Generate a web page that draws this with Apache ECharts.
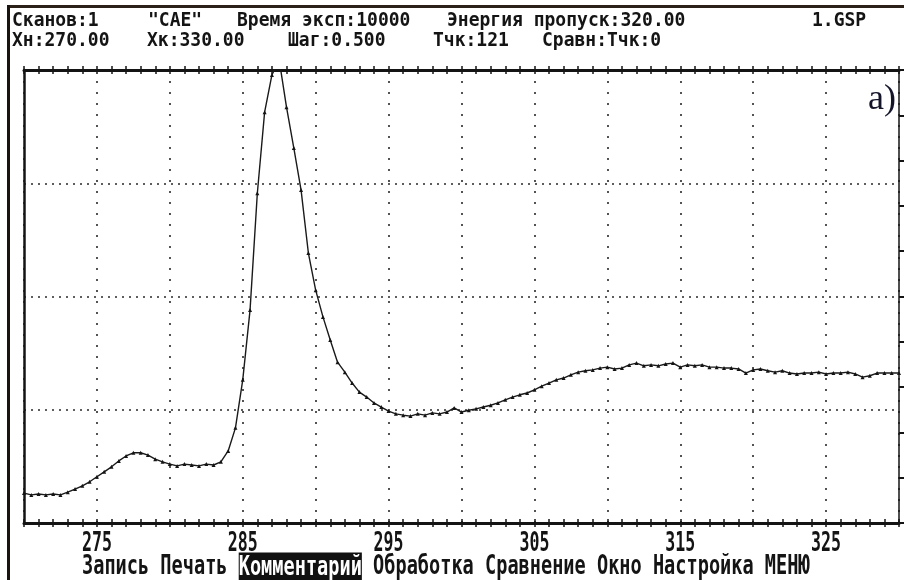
<!DOCTYPE html>
<html><head><meta charset="utf-8">
<script src="https://cdn.jsdelivr.net/npm/echarts@6/dist/echarts.min.js"></script>
<style>html,body{margin:0;padding:0;background:#fff}#c{width:904px;height:580px}</style>
</head><body><div id="c"></div>
<script>
// ---- data ----
const xStart = 270;
const xStep = 0.5;
const intensity = [
 6.6,6.2,6.4,6.2,6.4,6.2,6.8,7.5,8.2,9.1,
 10.2,11.3,12.4,13.7,14.8,15.5,15.5,15.0,14.1,13.5,
 13.0,12.6,13.0,12.8,12.6,13.0,12.8,13.5,15.9,21.0,
 31.6,47.0,72.8,90.7,98.9,102.2,91.8,82.8,73.5,59.6,
 51.4,45.5,40.4,35.5,33.3,30.9,28.9,27.8,26.5,25.6,
 24.7,24.1,23.8,23.6,24.1,23.8,24.3,24.1,24.5,25.4,
 24.5,24.9,25.2,25.6,26.0,26.5,27.2,27.8,28.3,28.7,
 29.4,30.2,30.9,31.6,32.0,32.7,33.3,33.6,33.8,34.2,
 34.4,34.0,34.2,34.9,35.3,34.7,34.9,34.7,35.1,35.3,
 34.4,34.9,34.7,34.9,34.4,34.4,34.2,34.2,34.0,33.1,
 33.8,34.0,33.6,33.3,33.6,33.1,32.9,33.1,33.1,33.3,
 32.9,33.1,33.1,33.3,32.9,32.2,32.5,33.1,33.1,33.1,
 33.1
];
const xTickLabels = [275, 285, 295, 305, 315, 325];
const headerLine1 = ['Сканов:1', '"CAE"', 'Время эксп:10000', 'Энергия пропуск:320.00', '1.GSP'];
const headerLine2 = ['Хн:270.00', 'Хк:330.00', 'Шаг:0.500', 'Тчк:121', 'Сравн:Тчк:0'];
const menuItems = ['Запись', 'Печать', 'Комментарий', 'Обработка', 'Сравнение', 'Окно', 'Настройка', 'МЕНЮ'];
const highlighted = 'Комментарий';
const panelLabel = 'a)';

// ---- layout / styles ----
const h1x = [12, 148, 237, 447, 812];
const h2x = [12, 147, 288, 433, 542];
const MONO = "'DejaVu Sans Mono', 'Liberation Mono', monospace";
const ink = '#141414';

const seriesData = intensity.map((v, i) => [xStart + i * xStep, v]);

function headerText(arr, xs, cy) {
  return arr.map((t, i) => ({
    type: 'text', x: xs[i], y: cy, scaleY: 1.12,
    style: { text: t, font: 'bold 18px ' + MONO, fill: ink, verticalAlign: 'middle', align: 'left' }
  }));
}
const menuStr = menuItems.map(m => m === highlighted ? '{hl|' + m + '}' : m).join(' ');

const chart = echarts.init(document.getElementById('c'), null, { renderer: 'canvas' });
const dotted = { color: '#2a2a2a', width: 1.6 };
const tickStyle = { color: ink, width: 1.5 };
chart.setOption({
  animation: false,
  backgroundColor: '#fff',
  grid: { left: 24, right: 5, top: 70, bottom: 57, containLabel: false },
  xAxis: [
    { type: 'value', position: 'bottom', min: 270, max: 330, interval: 5,
      axisLine: { show: true, lineStyle: { color: ink, width: 3 } },
      axisTick: { show: true, length: 4, lineStyle: tickStyle },
      minorTick: { show: true, splitNumber: 5, length: 4, lineStyle: tickStyle },
      axisLabel: { show: false },
      splitLine: { show: true, lineStyle: Object.assign({ type: [2, 9] }, dotted) },
      minorSplitLine: { show: false } },
    { type: 'value', position: 'bottom', min: 270, max: 330, interval: 5,
      axisLine: { show: false },
      axisTick: { show: true, inside: true, length: 4, lineStyle: tickStyle },
      minorTick: { show: true, splitNumber: 5, length: 4, lineStyle: tickStyle },
      axisLabel: { show: false }, splitLine: { show: false } },
    { type: 'value', position: 'top', min: 270, max: 330, interval: 5,
      axisLine: { show: true, lineStyle: { color: ink, width: 3 } },
      axisTick: { show: true, length: 4, lineStyle: tickStyle },
      minorTick: { show: true, splitNumber: 5, length: 4, lineStyle: tickStyle },
      axisLabel: { show: false }, splitLine: { show: false } },
    { type: 'value', position: 'top', min: 270, max: 330, interval: 5,
      axisLine: { show: false },
      axisTick: { show: true, inside: true, length: 4, lineStyle: tickStyle },
      minorTick: { show: true, splitNumber: 5, length: 4, lineStyle: tickStyle },
      axisLabel: { show: false }, splitLine: { show: false } }
  ],
  yAxis: [
    { type: 'value', position: 'left', min: 0, max: 100, interval: 25,
      axisLine: { show: true, lineStyle: { color: ink, width: 2.5 } },
      axisTick: { show: false }, axisLabel: { show: false },
      splitLine: { show: true, lineStyle: Object.assign({ type: [2, 5] }, dotted) } },
    { type: 'value', position: 'right', min: 0, max: 100, interval: 10,
      axisLine: { show: true, lineStyle: { color: ink, width: 1.5 } },
      axisTick: { show: true, length: 5, lineStyle: { color: ink, width: 2 } },
      axisLabel: { show: false }, splitLine: { show: false } }
  ],
  series: [{
    type: 'line', xAxisIndex: 0, yAxisIndex: 0, data: seriesData,
    showSymbol: true, symbol: 'triangle', symbolSize: 4,
    itemStyle: { color: ink },
    lineStyle: { color: '#1a1a1a', width: 1.4 },
    clip: true, z: 5
  }]
});

// x tick labels placed through the axis scale (tall narrow terminal-style digits)
const tickLabelGraphics = xTickLabels.map(v => ({
  type: 'text', x: chart.convertToPixel({ xAxisIndex: 0 }, v), y: 544, scaleY: 1.55,
  style: { text: String(v), font: 'bold 16.6px ' + MONO, fill: ink, align: 'center', verticalAlign: 'middle' }
}));

chart.setOption({
  graphic: [
    { type: 'rect', shape: { x: 7, y: 5, width: 897, height: 3 }, style: { fill: '#2b2118' } },
    { type: 'rect', shape: { x: 7, y: 5, width: 3, height: 575 }, style: { fill: '#1a1410' } },
    ...headerText(headerLine1, h1x, 21),
    ...headerText(headerLine2, h2x, 40.5),
    ...tickLabelGraphics,
    { type: 'text', x: 82, y: 567, scaleY: 1.45,
      style: { text: menuStr, font: 'bold 18.6px ' + MONO, fill: ink, verticalAlign: 'middle', align: 'left',
        rich: { hl: { font: 'bold 18.6px ' + MONO, fill: '#fff', backgroundColor: '#111', padding: [1, 0, 0, 0] } } } },
    { type: 'text', x: 896, y: 100, z: 10,
      style: { text: panelLabel, font: '36px "Liberation Serif", "DejaVu Serif", serif', fill: '#15152a', align: 'right', verticalAlign: 'middle' } }
  ]
});
</script></body></html>
